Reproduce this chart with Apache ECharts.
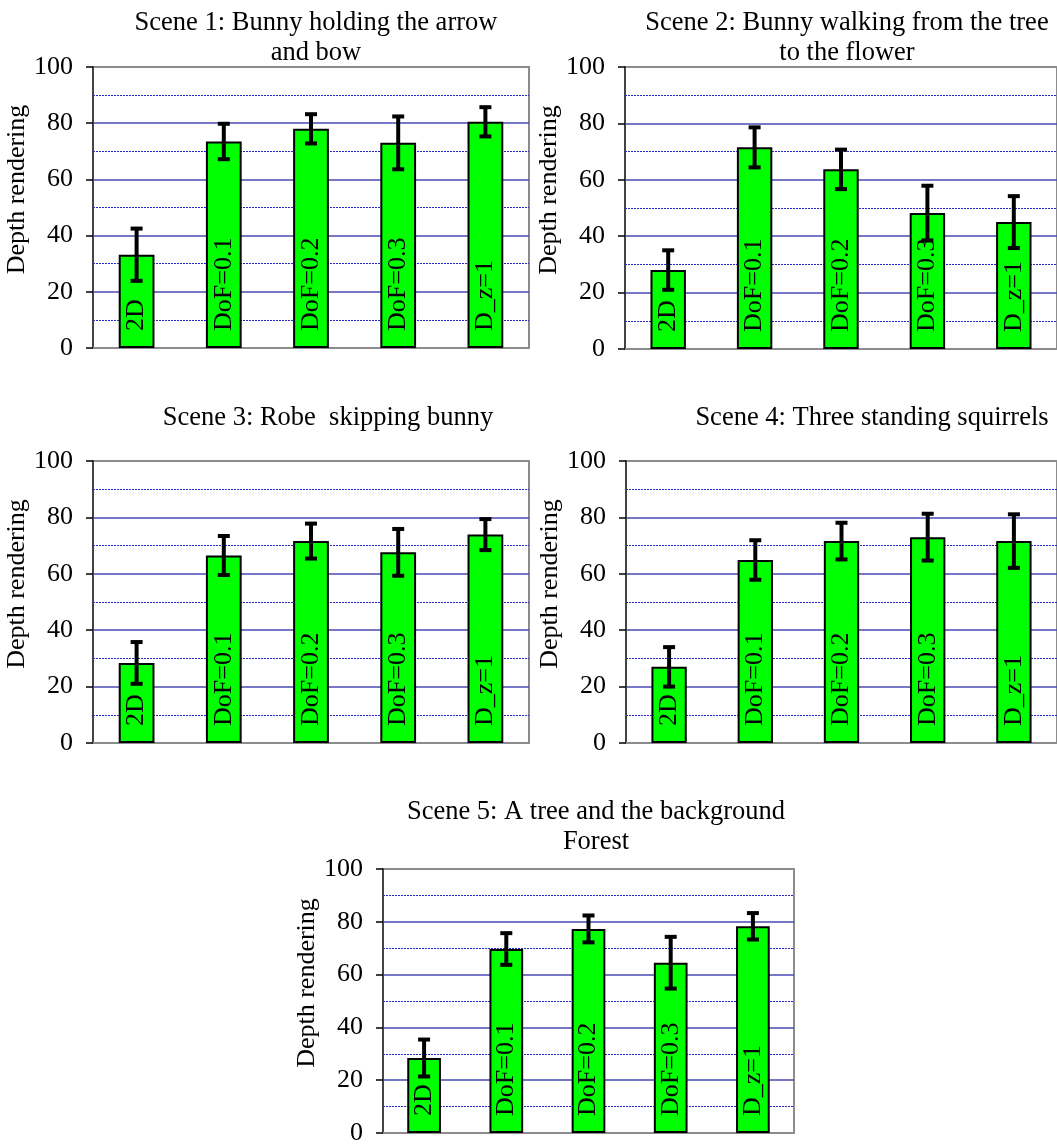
<!DOCTYPE html>
<html>
<head>
<meta charset="utf-8">
<script src="https://cdn.jsdelivr.net/npm/echarts@6/dist/echarts.min.js"></script>
<style>
html,body{margin:0;padding:0;background:#fff;}
#chart{width:1057px;height:1146px;}
</style>
</head>
<body>
<div id="chart"></div>
<script>
// ---- data ----
const categories = ['2D', 'DoF=0.1', 'DoF=0.2', 'DoF=0.3', 'D_z=1'];
const titles = [
  'Scene 1: Bunny holding the arrow\nand bow',
  'Scene 2: Bunny walking from the tree\nto the flower',
  'Scene 3: Robe  skipping bunny',
  'Scene 4: Three standing squirrels',
  'Scene 5: A tree and the background\nForest'
];
const yTicks = [0, 20, 40, 60, 80, 100];
const scene1 = [33.2, 73.5, 78.0, 73.0, 80.5];
const scene1Err = [9.3, 6.3, 5.2, 9.4, 5.2];
const scene2 = [28.0, 71.5, 63.7, 48.2, 45.0];
const scene2Err = [7.0, 7.1, 7.0, 9.7, 9.2];
const scene3 = [28.4, 66.5, 71.6, 67.6, 73.9];
const scene3Err = [7.4, 6.9, 6.2, 8.3, 5.5];
const scene4 = [27.0, 64.9, 71.6, 73.0, 71.6];
const scene4Err = [7.0, 7.0, 6.5, 8.3, 9.5];
const scene5 = [28.4, 69.7, 77.3, 64.5, 78.3];
const scene5Err = [7.0, 6.0, 5.1, 9.8, 5.0];

const values = [scene1, scene2, scene3, scene4, scene5];
const errors = [scene1Err, scene2Err, scene3Err, scene4Err, scene5Err];

// ---- layout ----
const FONT = "'Liberation Serif', 'Times New Roman', serif";
const grids = [
  {left: 93, top: 67, width: 436, height: 281},
  {left: 625, top: 67, width: 435, height: 282},
  {left: 93, top: 461, width: 436, height: 282},
  {left: 626, top: 461, width: 435, height: 282},
  {left: 383, top: 869, width: 411, height: 268}
];
const titlePos = [
  {x: 316, y: 8},
  {x: 847, y: 8},
  {x: 328, y: 403},
  {x: 872, y: 403},
  {x: 596, y: 797}
];

const option = {
  backgroundColor: '#fff',
  animation: false,
  title: titles.map((t, i) => ({
    text: t,
    left: titlePos[i].x,
    top: titlePos[i].y,
    textAlign: 'center',
    padding: 0,
    textStyle: {fontFamily: FONT, fontSize: 26.5, fontWeight: 'normal', color: '#000', lineHeight: 30}
  })),
  grid: grids.map(g => Object.assign({
    show: true, borderColor: '#8c8c8c', borderWidth: 2, backgroundColor: '#fff', containLabel: false
  }, g)),
  xAxis: grids.map((g, i) => ({
    type: 'category',
    gridIndex: i,
    data: categories,
    axisLine: {show: true, lineStyle: {color: '#8c8c8c', width: 2}},
    axisTick: {show: false},
    axisLabel: {show: false},
    splitLine: {show: false}
  })),
  yAxis: grids.map((g, i) => ({
    type: 'value',
    gridIndex: i,
    min: yTicks[0],
    max: yTicks[yTicks.length - 1],
    interval: 20,
    name: 'Depth rendering',
    nameLocation: 'middle',
    nameGap: 56,
    nameTextStyle: {fontFamily: FONT, fontSize: 26, color: '#000', padding: [0, 0, 0, 36]},
    axisLine: {show: true, lineStyle: {color: '#444', width: 2}},
    axisTick: {show: true, inside: false, length: 7, lineStyle: {color: '#000', width: 1.5}},
    axisLabel: {fontFamily: FONT, fontSize: 26, color: '#000', margin: 20},
    splitLine: {show: true, showMinLine: false, showMaxLine: false, lineStyle: {color: '#4a4ab4', width: 1.5}},
    minorTick: {show: false, splitNumber: 2},
    minorSplitLine: {show: true, lineStyle: {color: '#2828c8', width: 1, type: [2, 1]}}
  })),
  series: []
};

values.forEach((vals, i) => {
  option.series.push({
    type: 'bar',
    xAxisIndex: i,
    yAxisIndex: i,
    data: vals,
    barWidth: '41%',
    itemStyle: {color: '#00ff00', borderColor: '#000', borderWidth: 2},
    label: {
      show: true,
      position: 'insideBottom',
      rotate: 90,
      align: 'left',
      verticalAlign: 'middle',
      distance: 17,
      formatter: '{b}',
      fontFamily: FONT,
      fontSize: 26,
      color: '#000'
    },
    z: 2
  });
  option.series.push({
    type: 'custom',
    xAxisIndex: i,
    yAxisIndex: i,
    z: 5,
    encode: {x: 0, y: 1},
    data: vals.map((v, j) => [j, v, errors[i][j]]),
    renderItem: function (params, api) {
      const x = api.value(0), v = api.value(1), e = api.value(2);
      const hi = api.coord([x, v + e]);
      const lo = api.coord([x, v - e]);
      const hw = 6;
      const st = {stroke: '#000', lineWidth: 4};
      return {
        type: 'group',
        children: [
          {type: 'line', shape: {x1: hi[0], y1: hi[1], x2: lo[0], y2: lo[1]}, style: st},
          {type: 'line', shape: {x1: hi[0] - hw, y1: hi[1], x2: hi[0] + hw, y2: hi[1]}, style: st},
          {type: 'line', shape: {x1: lo[0] - hw, y1: lo[1], x2: lo[0] + hw, y2: lo[1]}, style: st}
        ]
      };
    }
  });
});

const chart = echarts.init(document.getElementById('chart'), null, {renderer: 'canvas'});
chart.setOption(option);
</script>
</body>
</html>
